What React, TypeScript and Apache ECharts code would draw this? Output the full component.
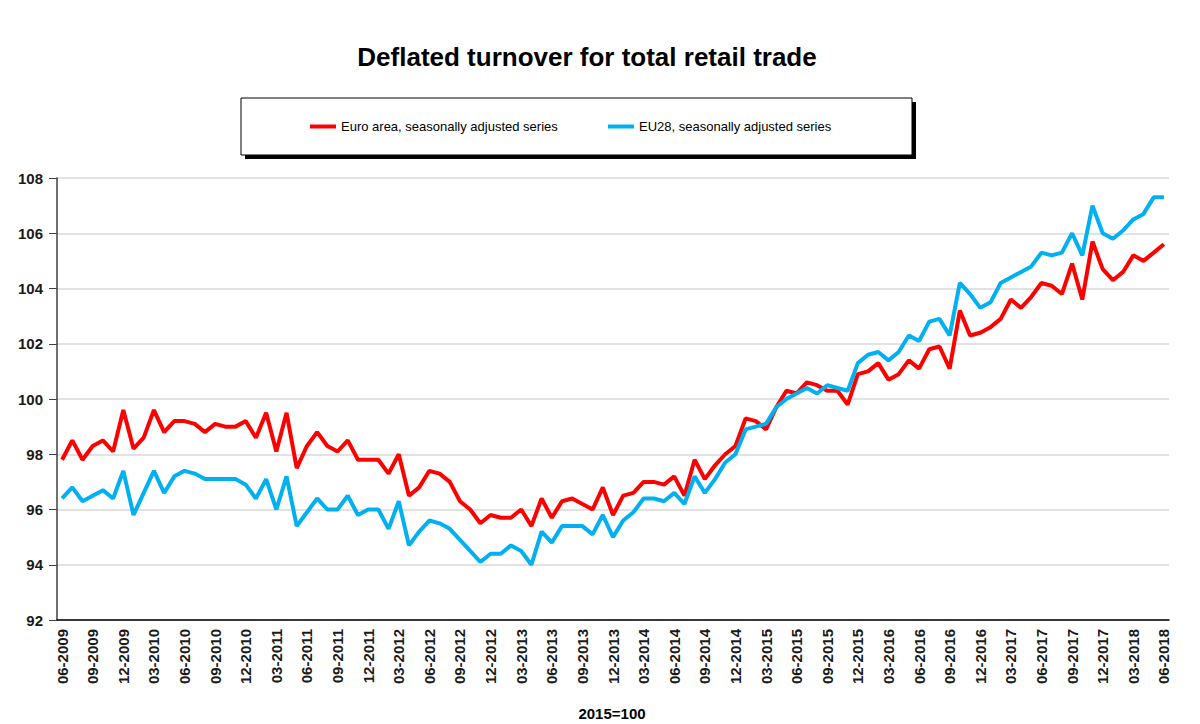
import React, { useEffect, useRef } from "react";
import * as echarts from "echarts";

const START_YEAR = 2009;
const START_MONTH = 6;
const N_MONTHS = 109;

const euroArea = [
  97.8, 98.5, 97.8, 98.3, 98.5, 98.1, 99.6, 98.2, 98.6, 99.6,
  98.8, 99.2, 99.2, 99.1, 98.8, 99.1, 99.0, 99.0, 99.2, 98.6,
  99.5, 98.1, 99.5, 97.5, 98.3, 98.8, 98.3, 98.1, 98.5, 97.8,
  97.8, 97.8, 97.3, 98.0, 96.5, 96.8, 97.4, 97.3, 97.0, 96.3,
  96.0, 95.5, 95.8, 95.7, 95.7, 96.0, 95.4, 96.4, 95.7, 96.3,
  96.4, 96.2, 96.0, 96.8, 95.8, 96.5, 96.6, 97.0, 97.0, 96.9,
  97.2, 96.5, 97.8, 97.1, 97.6, 98.0, 98.3, 99.3, 99.2, 98.9,
  99.7, 100.3, 100.2, 100.6, 100.5, 100.3, 100.3, 99.8, 100.9, 101.0,
  101.3, 100.7, 100.9, 101.4, 101.1, 101.8, 101.9, 101.1, 103.2, 102.3,
  102.4, 102.6, 102.9, 103.6, 103.3, 103.7, 104.2, 104.1, 103.8, 104.9,
  103.6, 105.7, 104.7, 104.3, 104.6, 105.2, 105.0, 105.3, 105.6,
];

const eu28 = [
  96.4, 96.8, 96.3, 96.5, 96.7, 96.4, 97.4, 95.8, 96.6, 97.4,
  96.6, 97.2, 97.4, 97.3, 97.1, 97.1, 97.1, 97.1, 96.9, 96.4,
  97.1, 96.0, 97.2, 95.4, 95.9, 96.4, 96.0, 96.0, 96.5, 95.8,
  96.0, 96.0, 95.3, 96.3, 94.7, 95.2, 95.6, 95.5, 95.3, 94.9,
  94.5, 94.1, 94.4, 94.4, 94.7, 94.5, 94.0, 95.2, 94.8, 95.4,
  95.4, 95.4, 95.1, 95.8, 95.0, 95.6, 95.9, 96.4, 96.4, 96.3,
  96.6, 96.2, 97.2, 96.6, 97.1, 97.7, 98.0, 98.9, 99.0, 99.1,
  99.7, 100.0, 100.2, 100.4, 100.2, 100.5, 100.4, 100.3, 101.3, 101.6,
  101.7, 101.4, 101.7, 102.3, 102.1, 102.8, 102.9, 102.3, 104.2, 103.8,
  103.3, 103.5, 104.2, 104.4, 104.6, 104.8, 105.3, 105.2, 105.3, 106.0,
  105.2, 107.0, 106.0, 105.8, 106.1, 106.5, 106.7, 107.3, 107.3,
];

const categories: string[] = [];
for (let i = 0; i < N_MONTHS; i++) {
  const m = ((START_MONTH - 1 + i) % 12) + 1;
  const y = START_YEAR + Math.floor((START_MONTH - 1 + i) / 12);
  categories.push(`${m < 10 ? "0" + m : m}-${y}`);
}

const TITLE = "Deflated turnover for total retail trade";
const SERIES_NAMES = ["Euro area, seasonally adjusted series", "EU28, seasonally adjusted series"];
const X_NAME = "2015=100";

export default function App() {
  const ref = useRef<HTMLDivElement>(null);
  useEffect(() => {
    document.body.style.margin = "0";
    const chart = echarts.init(ref.current!, undefined, { renderer: "svg" });
    const font = "Arial, 'Liberation Sans', sans-serif";
    chart.setOption({
      animation: false,
      backgroundColor: "#ffffff",
      textStyle: { fontFamily: font },
      graphic: [
        {
          type: "rect",
          shape: { x: 245, y: 102, width: 671, height: 57 },
          style: { fill: "#000000" },
          z: 0,
        },
        {
          type: "rect",
          shape: { x: 241, y: 98, width: 671, height: 57 },
          style: { fill: "#ffffff", stroke: "#000000", lineWidth: 1 },
          z: 1,
        },
        {
          type: "text",
          x: 587,
          y: 57,
          style: {
            text: TITLE,
            font: `bold 26px ${font}`,
            fill: "#000000",
            textAlign: "center",
            textVerticalAlign: "middle",
          },
        },
        {
          type: "text",
          x: 612,
          y: 713,
          style: {
            text: X_NAME,
            font: `bold 15px ${font}`,
            fill: "#000000",
            textAlign: "center",
            textVerticalAlign: "middle",
          },
        },
      ],
      legend: [
        {
          data: [SERIES_NAMES[0]],
          left: 310,
          top: 120,
          padding: 0,
          icon: "rect",
          itemWidth: 26,
          itemHeight: 4,
          textStyle: { fontSize: 13, color: "#000000", fontFamily: font },
          z: 10,
        },
        {
          data: [SERIES_NAMES[1]],
          left: 608,
          top: 120,
          padding: 0,
          icon: "rect",
          itemWidth: 26,
          itemHeight: 4,
          textStyle: { fontSize: 13, color: "#000000", fontFamily: font },
          z: 10,
        },
      ],
      grid: { left: 57, right: 31, top: 178, bottom: 104, containLabel: false },
      xAxis: {
        type: "category",
        data: categories,
        boundaryGap: true,
        axisLine: { lineStyle: { color: "#000000", width: 1.5 } },
        axisTick: { interval: 2, length: 7, lineStyle: { color: "#000000" } },
        axisLabel: {
          interval: 2,
          rotate: 90,
          fontSize: 15,
          fontWeight: "bold",
          color: "#1a1a1a",
          margin: 9,
          fontFamily: font,
        },
        splitLine: { show: false },
      },
      yAxis: {
        type: "value",
        min: 92,
        max: 108,
        interval: 2,
        axisLine: { show: true, lineStyle: { color: "#404040", width: 1.5 } },
        axisTick: { show: true, length: 8, lineStyle: { color: "#404040" } },
        axisLabel: {
          fontSize: 15,
          fontWeight: "bold",
          color: "#1a1a1a",
          margin: 14,
          fontFamily: font,
        },
        splitLine: { lineStyle: { color: "#d9d9d9", width: 1.5 } },
      },
      series: [
        {
          name: SERIES_NAMES[0],
          type: "line",
          data: euroArea,
          showSymbol: false,
          symbol: "none",
          lineStyle: { color: "#ff0000", width: 4 },
          itemStyle: { color: "#ff0000" },
          z: 3,
        },
        {
          name: SERIES_NAMES[1],
          type: "line",
          data: eu28,
          showSymbol: false,
          symbol: "none",
          lineStyle: { color: "#00b0f0", width: 4 },
          itemStyle: { color: "#00b0f0" },
          z: 4,
        },
      ],
    });
    return () => chart.dispose();
  }, []);
  return (
    <div
      ref={ref}
      style={{ position: "absolute", left: 0, top: 0, width: 1200, height: 724 }}
    />
  );
}
